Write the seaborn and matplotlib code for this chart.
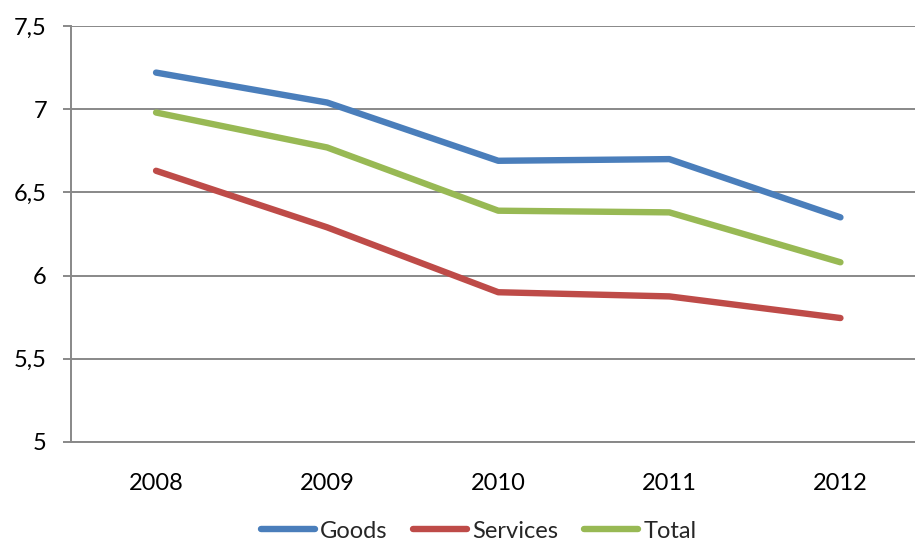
import matplotlib
matplotlib.use("Agg")
import matplotlib.pyplot as plt
import seaborn as sns
import pandas as pd
from matplotlib.ticker import FixedLocator, FuncFormatter

years = ["2008", "2009", "2010", "2011", "2012"]
goods = [7.22, 7.04, 6.69, 6.70, 6.35]
services = [6.63, 6.29, 5.90, 5.875, 5.745]
total = [6.98, 6.77, 6.39, 6.38, 6.08]
series_names = ["Goods", "Services", "Total"]
y_ticks = [5, 5.5, 6, 6.5, 7, 7.5]

rows = []
for name, vals in zip(series_names, [goods, services, total]):
    for i, (yr, v) in enumerate(zip(years, vals)):
        rows.append({"pos": i, "year": yr, "value": v, "series": name})
df = pd.DataFrame(rows)

sns.set_theme(style="white")
plt.rcParams["font.family"] = ["Lato", "DejaVu Sans"]

W, H = 915, 542
fig = plt.figure(figsize=(W / 100, H / 100), dpi=100)
left, right, top, bottom = 70.5, 926, 26, 442
ax = fig.add_axes([left / W, 1 - bottom / H, (right - left) / W, (bottom - top) / H])

palette = {"Goods": "#4A7EBB", "Services": "#BE4B48", "Total": "#98B954"}
sns.lineplot(data=df, x="pos", y="value", hue="series", palette=palette,
             linewidth=4.6, ax=ax, legend=False, solid_capstyle="round")
for line in ax.get_lines():
    line.set_solid_capstyle("round")
    line.set_solid_joinstyle("round")

ax.set_xlim(-0.5, len(years) - 0.5)
ax.set_ylim(5, 7.5)
grid_c = "#888888"
ax.yaxis.set_major_locator(FixedLocator(y_ticks))
ax.yaxis.set_major_formatter(FuncFormatter(lambda v, p: (f"{v:g}").replace(".", ",")))
ax.grid(axis="y", color=grid_c, linewidth=1.4)
ax.set_axisbelow(True)

ax.set_xticks(range(len(years)))
ax.set_xticklabels(years)
ax.set_xticks([i - 0.5 for i in range(len(years) + 1)], minor=True)
ax.tick_params(axis="x", which="major", length=0, pad=22, labelsize=17, colors="black")
ax.tick_params(axis="x", which="minor", length=5, width=1.4, color=grid_c, direction="out")
ax.tick_params(axis="y", which="major", length=6, width=1.4, color=grid_c, pad=11,
               labelsize=17, left=True, labelcolor="black")

for s in ["top", "right"]:
    ax.spines[s].set_visible(False)
for s in ["left", "bottom"]:
    ax.spines[s].set_color(grid_c)
    ax.spines[s].set_linewidth(1.4)
ax.set_xlabel("")
ax.set_ylabel("")

from matplotlib.lines import Line2D
handles = [Line2D([0], [0], color=palette[n], linewidth=4.6, solid_capstyle="round") for n in series_names]
fig.legend(handles, series_names, loc="center", bbox_to_anchor=(478.5 / W, 1 - 531 / H),
           ncol=3, frameon=False, fontsize=17, handlelength=2.3, handletextpad=0.2,
           columnspacing=1.1, borderpad=0, borderaxespad=0)

fig.savefig("out.png", dpi=100)
